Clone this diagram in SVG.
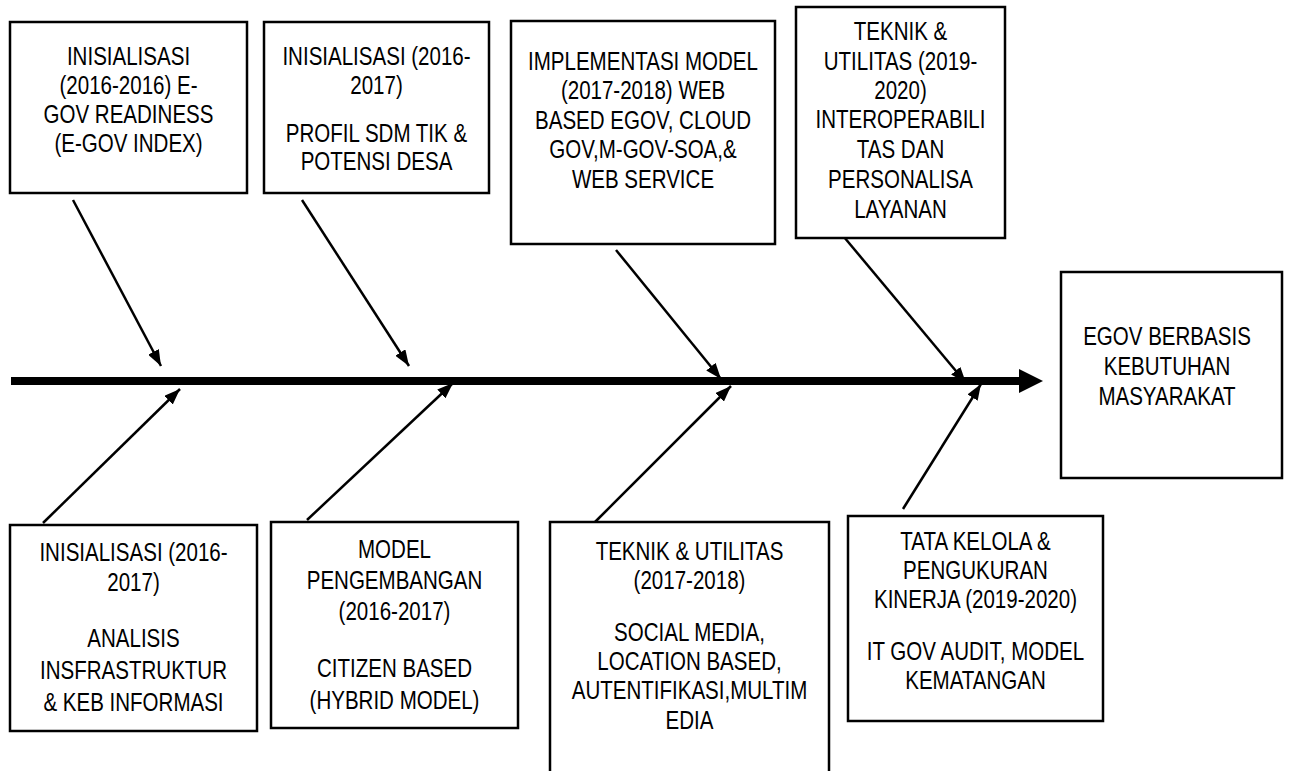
<svg xmlns="http://www.w3.org/2000/svg" width="1289" height="771" viewBox="0 0 1289 771">
  <style>
    .box { fill: #fff; stroke: #000; stroke-width: 2.5; }
    .lbl { font-family: "Liberation Sans", Arial, sans-serif; font-size: 26px; fill: #000; text-anchor: middle; }
    .bone { stroke: #000; stroke-width: 2.5; fill: none; marker-end: url(#head); }
  </style>
  <defs>
    <marker id="head" viewBox="0 0 16 12" refX="16" refY="6" markerWidth="16" markerHeight="12" markerUnits="userSpaceOnUse" orient="auto">
      <path d="M0,0 L16,6 L0,12 z" fill="#000"/>
    </marker>
  </defs>

  <!-- spine and bones -->
  <g id="connectors">
    <line x1="11" y1="381" x2="1020" y2="381" stroke="#000" stroke-width="8"/>
    <polygon points="1019,369 1043,381 1019,393" fill="#000"/>
    <line class="bone" x1="73" y1="200" x2="161" y2="366"/>
    <line class="bone" x1="302" y1="200" x2="409" y2="366"/>
    <line class="bone" x1="616" y1="250" x2="721" y2="379"/>
    <line class="bone" x1="844" y1="237" x2="966" y2="383"/>
    <line class="bone" x1="43" y1="523" x2="180" y2="389"/>
    <line class="bone" x1="307" y1="520" x2="453" y2="383"/>
    <line class="bone" x1="595" y1="522" x2="731" y2="386"/>
    <line class="bone" x1="903" y1="509" x2="981" y2="384"/>
  </g>

  <!-- labels use a condensed face: regular sans squeezed horizontally -->
  <g id="node-readiness">
    <rect class="box" x="10" y="22" width="237" height="171"/>
    <g transform="translate(128.5 0) scale(0.79 1)">
      <text class="lbl" x="0" y="65">INISIALISASI</text>
      <text class="lbl" x="0" y="94">(2016-2016) E-</text>
      <text class="lbl" x="0" y="123">GOV READINESS</text>
      <text class="lbl" x="0" y="152">(E-GOV INDEX)</text>
    </g>
  </g>

  <g id="node-profil">
    <rect class="box" x="264" y="22" width="225" height="171"/>
    <g transform="translate(376.5 0) scale(0.79 1)">
      <text class="lbl" x="0" y="65">INISIALISASI (2016-</text>
      <text class="lbl" x="0" y="94">2017)</text>
      <text class="lbl" x="0" y="142">PROFIL SDM TIK &amp;</text>
      <text class="lbl" x="0" y="170">POTENSI DESA</text>
    </g>
  </g>

  <g id="node-implementasi">
    <rect class="box" x="511" y="21" width="264" height="223"/>
    <g transform="translate(643 0) scale(0.79 1)">
      <text class="lbl" x="0" y="70">IMPLEMENTASI MODEL</text>
      <text class="lbl" x="0" y="99">(2017-2018) WEB</text>
      <text class="lbl" x="0" y="129">BASED EGOV, CLOUD</text>
      <text class="lbl" x="0" y="158">GOV,M-GOV-SOA,&amp;</text>
      <text class="lbl" x="0" y="188">WEB SERVICE</text>
    </g>
  </g>

  <g id="node-interop">
    <rect class="box" x="796" y="7" width="209" height="231"/>
    <g transform="translate(900.5 0) scale(0.79 1)">
      <text class="lbl" x="0" y="40">TEKNIK &amp;</text>
      <text class="lbl" x="0" y="70">UTILITAS (2019-</text>
      <text class="lbl" x="0" y="99">2020)</text>
      <text class="lbl" x="0" y="128">INTEROPERABILI</text>
      <text class="lbl" x="0" y="158">TAS DAN</text>
      <text class="lbl" x="0" y="188">PERSONALISA</text>
      <text class="lbl" x="0" y="218">LAYANAN</text>
    </g>
  </g>

  <g id="node-goal">
    <rect class="box" x="1061" y="272" width="221" height="206"/>
    <g transform="translate(1167 0) scale(0.79 1)">
      <text class="lbl" x="0" y="345">EGOV BERBASIS</text>
      <text class="lbl" x="0" y="375">KEBUTUHAN</text>
      <text class="lbl" x="0" y="405">MASYARAKAT</text>
    </g>
  </g>

  <g id="node-analisis">
    <rect class="box" x="10" y="525" width="247" height="206"/>
    <g transform="translate(133.5 0) scale(0.79 1)">
      <text class="lbl" x="0" y="561">INISIALISASI (2016-</text>
      <text class="lbl" x="0" y="591">2017)</text>
      <text class="lbl" x="0" y="647">ANALISIS</text>
      <text class="lbl" x="0" y="679">INSFRASTRUKTUR</text>
      <text class="lbl" x="0" y="711">&amp; KEB INFORMASI</text>
    </g>
  </g>

  <g id="node-model">
    <rect class="box" x="271" y="522" width="247" height="206"/>
    <g transform="translate(394.5 0) scale(0.79 1)">
      <text class="lbl" x="0" y="558">MODEL</text>
      <text class="lbl" x="0" y="589">PENGEMBANGAN</text>
      <text class="lbl" x="0" y="620">(2016-2017)</text>
      <text class="lbl" x="0" y="677">CITIZEN BASED</text>
      <text class="lbl" x="0" y="709">(HYBRID MODEL)</text>
    </g>
  </g>

  <g id="node-social">
    <rect class="box" x="550" y="522" width="279" height="260"/>
    <g transform="translate(689.5 0) scale(0.79 1)">
      <text class="lbl" x="0" y="560">TEKNIK &amp; UTILITAS</text>
      <text class="lbl" x="0" y="589">(2017-2018)</text>
      <text class="lbl" x="0" y="641">SOCIAL MEDIA,</text>
      <text class="lbl" x="0" y="670">LOCATION BASED,</text>
      <text class="lbl" x="0" y="699">AUTENTIFIKASI,MULTIM</text>
      <text class="lbl" x="0" y="729">EDIA</text>
    </g>
  </g>

  <g id="node-tatakelola">
    <rect class="box" x="848" y="516" width="255" height="205"/>
    <g transform="translate(975.5 0) scale(0.79 1)">
      <text class="lbl" x="0" y="550">TATA KELOLA &amp;</text>
      <text class="lbl" x="0" y="579">PENGUKURAN</text>
      <text class="lbl" x="0" y="608">KINERJA (2019-2020)</text>
      <text class="lbl" x="0" y="660">IT GOV AUDIT, MODEL</text>
      <text class="lbl" x="0" y="689">KEMATANGAN</text>
    </g>
  </g>
</svg>
